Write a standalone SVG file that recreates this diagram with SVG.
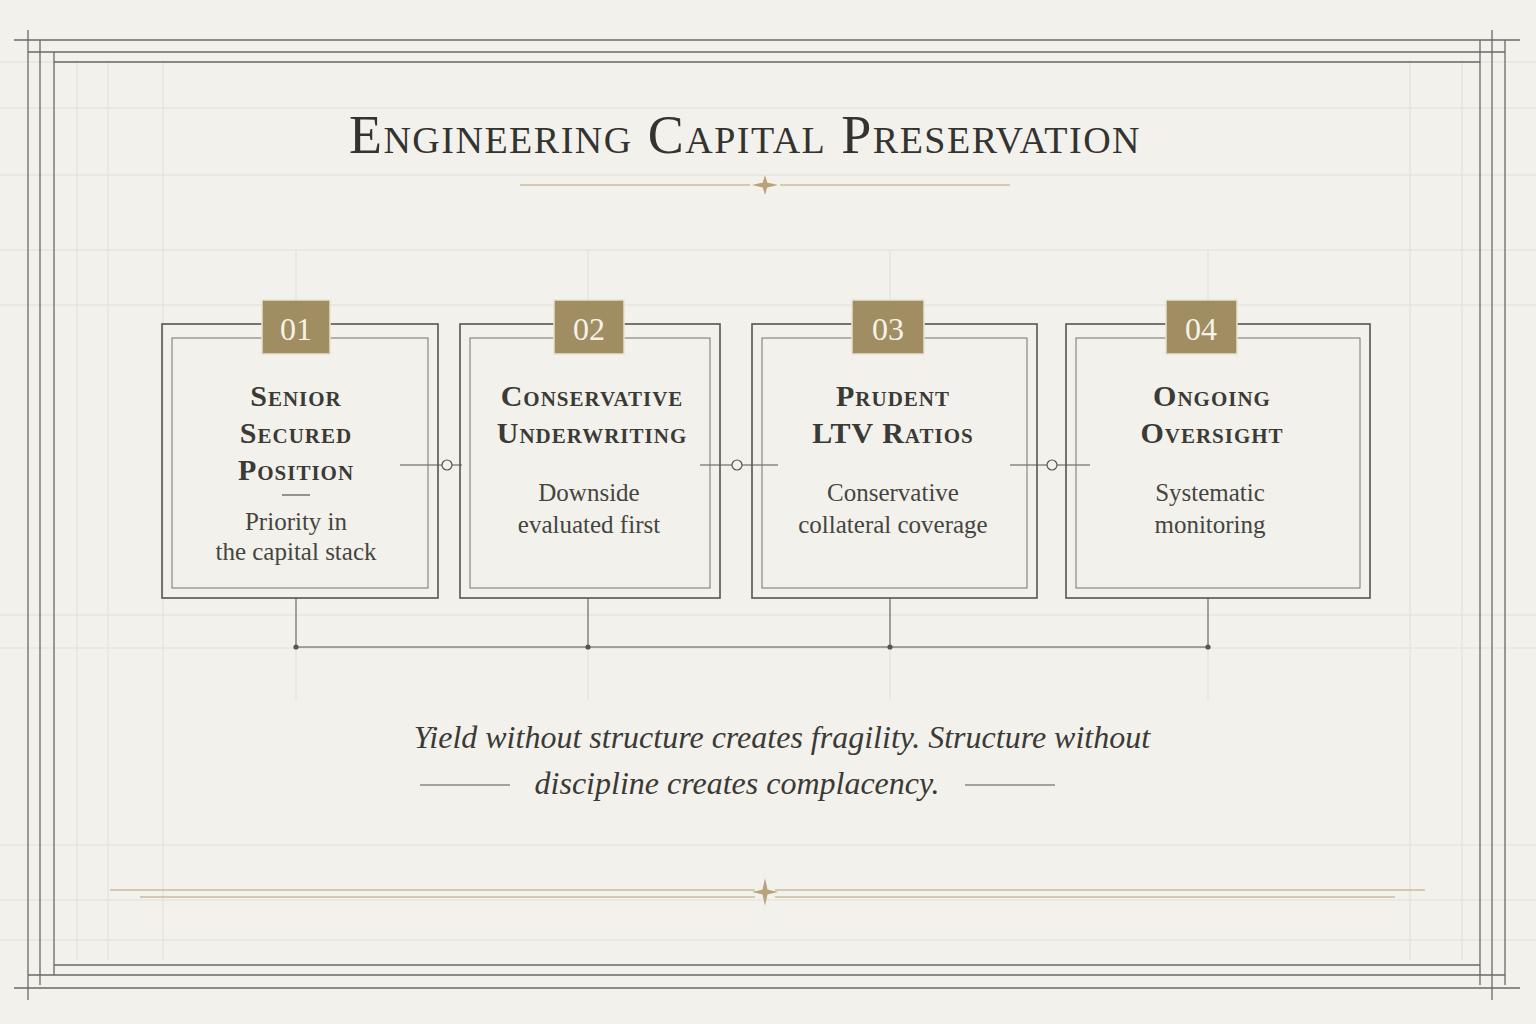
<svg xmlns="http://www.w3.org/2000/svg" width="1536" height="1024" viewBox="0 0 1536 1024">
<style>
.frame{fill:none;stroke:#6a6a66;stroke-width:1.3}
.faint{fill:none;stroke:#e2dfd8;stroke-width:1}
.box{fill:none;stroke:#55554f;stroke-width:1.6}
.box2{fill:none;stroke:#77756e;stroke-width:1}
.badge{fill:#a08e62;stroke:#e8e1cf;stroke-width:1.5}
.num{font-family:"Liberation Serif",serif;font-size:32px;fill:#f6f2e8;text-anchor:middle}
.hd{font-family:"Liberation Serif",serif;font-size:30px;font-weight:bold;font-variant:small-caps;fill:#3a3a36;text-anchor:middle;letter-spacing:1px}
.bd{font-family:"Liberation Serif",serif;font-size:25px;fill:#45453f;text-anchor:middle}
.q{font-family:"Liberation Serif",serif;font-size:32px;font-style:italic;fill:#3a3a36;text-anchor:middle}
.con{fill:none;stroke:#55554f;stroke-width:1.2}
.gold{stroke:#b8a27a;stroke-width:1.2;fill:none}
</style>
<rect width="1536" height="1024" fill="#f3f1ec"/>
<g id="grid" class="faint">
<path d="M0 62H1536M0 108H1536M0 175H1536M0 250H1536M0 305H1536M0 615H1536M0 648H1536M0 845H1536M0 900H1536M0 940H1536"/>
<path d="M77 60V960M108 60V960M163 60V960M296 250V320M296 600V700M588 250V320M588 600V700M890 250V320M890 600V700M1208 250V320M1208 600V700M1410 60V960M1462 60V960"/>
</g>
<g id="frame" class="frame">
<path d="M28 30V1000M40 40V985M54 52V975M1480 40V985M1492 30V1000M1505 40V985"/>
<path d="M14 40H1520M28 52H1505M54 62H1480M54 965H1480M28 975H1505M14 988H1520"/>
</g>
<g id="title">
<text x="745" y="153" font-family="Liberation Serif,serif" font-size="54" font-variant="small-caps" fill="#333330" text-anchor="middle" letter-spacing="1.5">Engineering Capital Preservation</text>
<path class="gold" d="M520 185H750M780 185H1010"/>
<path d="M765 175L768 185L765 195L762 185ZM752 185L765 182L778 185L765 188Z" fill="#b8a27a"/>
</g>
<g id="connectors" class="con">
<path d="M400 465H442M452 465H462M700 465H732M742 465H778M1010 465H1047M1057 465H1090"/>
<circle cx="447" cy="465" r="5"/><circle cx="737" cy="465" r="5"/><circle cx="1052" cy="465" r="5"/>
<path d="M296 598V647M588 598V647M890 598V647M1208 598V647M296 647H1210" stroke-width="1"/>
<circle cx="296" cy="647" r="2" fill="#55554f"/><circle cx="588" cy="647" r="2" fill="#55554f"/><circle cx="890" cy="647" r="2" fill="#55554f"/><circle cx="1208" cy="647" r="2" fill="#55554f"/>
</g>
<g id="node1">
<rect class="box" x="162" y="324" width="276" height="274"/>
<rect class="box2" x="172" y="338" width="256" height="250"/>
<rect class="badge" x="262" y="300" width="68" height="54"/>
<text class="num" x="296" y="340">01</text>
<text class="hd" x="296" y="406">Senior</text>
<text class="hd" x="296" y="443">Secured</text>
<text class="hd" x="296" y="480">Position</text>
<path class="con" d="M282 495H310" stroke-width="0.8"/>
<text class="bd" x="296" y="530">Priority in</text>
<text class="bd" x="296" y="560">the capital stack</text>
</g>
<g id="node2">
<rect class="box" x="460" y="324" width="260" height="274"/>
<rect class="box2" x="470" y="338" width="240" height="250"/>
<rect class="badge" x="554" y="300" width="70" height="54"/>
<text class="num" x="589" y="340">02</text>
<text class="hd" x="592" y="406">Conservative</text>
<text class="hd" x="592" y="443">Underwriting</text>
<text class="bd" x="589" y="501">Downside</text>
<text class="bd" x="589" y="533">evaluated first</text>
</g>
<g id="node3">
<rect class="box" x="752" y="324" width="285" height="274"/>
<rect class="box2" x="762" y="338" width="265" height="250"/>
<rect class="badge" x="852" y="300" width="72" height="54"/>
<text class="num" x="888" y="340">03</text>
<text class="hd" x="893" y="406">Prudent</text>
<text class="hd" x="893" y="443">LTV Ratios</text>
<text class="bd" x="893" y="501">Conservative</text>
<text class="bd" x="893" y="533">collateral coverage</text>
</g>
<g id="node4">
<rect class="box" x="1066" y="324" width="304" height="274"/>
<rect class="box2" x="1076" y="338" width="284" height="250"/>
<rect class="badge" x="1166" y="300" width="71" height="54"/>
<text class="num" x="1201" y="340">04</text>
<text class="hd" x="1212" y="406">Ongoing</text>
<text class="hd" x="1212" y="443">Oversight</text>
<text class="bd" x="1210" y="501">Systematic</text>
<text class="bd" x="1210" y="533">monitoring</text>
</g>
<g id="quote">
<text class="q" x="782" y="748">Yield without structure creates fragility. Structure without</text>
<text class="q" x="737" y="794">discipline creates complacency.</text>
<path class="con" d="M420 785H510M965 785H1055" stroke-width="0.8"/>
</g>
<g id="bottom-ornament">
<path class="gold" d="M110 890H755M775 890H1425M140 897H755M775 897H1395"/>
<path d="M765 878L768 892L765 906L762 892ZM752 892L765 889L778 892L765 895Z" fill="#b8a27a"/>
</g>
</svg>
